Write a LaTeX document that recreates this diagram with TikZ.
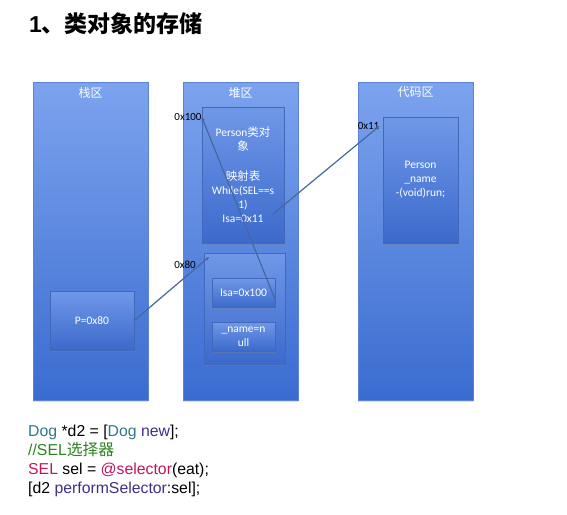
\documentclass[tikz,border=0pt]{standalone}
\usepackage{fontspec}
\setmainfont{Carlito}
\newfontfamily\cjk{Noto Sans CJK SC}
\newfontfamily\codefont{Liberation Sans}
\usetikzlibrary{arrows.meta, positioning, shadows}

\definecolor{coltop}{RGB}{124,163,238}
\definecolor{colbot}{RGB}{58,108,208}
\definecolor{colline}{RGB}{92,132,210}
\definecolor{celltop}{RGB}{112,152,232}
\definecolor{cellbot}{RGB}{60,106,204}
\definecolor{cellline}{RGB}{66,104,184}
\definecolor{ptrcol}{RGB}{70,104,158}
\definecolor{classcol}{RGB}{46,122,136}
\definecolor{msgcol}{RGB}{62,46,140}
\definecolor{commcol}{RGB}{44,132,30}
\definecolor{keycol}{RGB}{190,22,96}

\begin{document}
\begin{tikzpicture}[x=1pt,y=-1pt,
    col/.style={draw=colline, top color=coltop, bottom color=colbot,
        minimum width=115pt, minimum height=318pt, inner sep=0pt,
        drop shadow={opacity=0.25, shadow xshift=0pt, shadow yshift=-1.5pt}},
    colhead/.style={anchor=north, yshift=-5pt, inner sep=0pt, text=white,
        font=\cjk\fontsize{12}{13}\selectfont},
    cell/.style={draw=cellline, top color=celltop, bottom color=cellbot,
        text=white, align=center, inner sep=0pt,
        font=\fontsize{11.5}{14}\selectfont,
        drop shadow={opacity=0.35, shadow xshift=0.5pt, shadow yshift=-2pt}},
    addr/.style={inner sep=0pt, font=\fontsize{11}{12}\selectfont},
    ptr/.style={draw=ptrcol, line width=1.2pt, -{Stealth[length=4pt,width=3.5pt]}},
    codeline/.style={anchor=base west, inner sep=0pt,
        font=\codefont\fontsize{15.8}{18}\selectfont}]
\useasboundingbox (0,0) rectangle (567,514);

% title
\node[anchor=west, inner sep=0pt] (title) at (29,24)
    {\fontsize{23}{26}\selectfont{\codefont\bfseries 1}{\cjk\bfseries 、类对象的存储}};

% the three areas
\node[col, label={[colhead]north:栈区}] (stack) at (90.5,241) {};
\node[col, label={[colhead]north:堆区}] (heap) at (240.5,241) {};
\node[col, label={[colhead]north:代码区}] (code) at (415.5,241) {};

% stack
\node[cell, minimum width=84pt, minimum height=59pt] (pbox) at (92,320.5) {P=0x80};

% heap
\node[cell, minimum width=82pt, minimum height=136pt] (person) at (243,175)
    {Person{\cjk 类对}\\{\cjk 象}\\[16pt]{\cjk 映射表}\\While(SEL==s\\1)\\Isa=0x11};
\node[cell, minimum width=81pt, minimum height=111pt] (obj) at (244.5,308.5) {};
\node[cell, minimum width=63pt, minimum height=29pt] (isabox) at (243.5,292.5) {Isa=0x100};
\node[cell, minimum width=63pt, minimum height=29pt] (namebox) at (243.5,336.5)
    {\_name=n\\ull};

% code
\node[cell, minimum width=75pt, minimum height=126pt] (codebox) at (420.5,180)
    {Person\\\_name\\-(void)run;};

% addresses
\node[addr] (l100) at (188,117) {0x100};
\node[addr] (l80) at (185,265) {0x80};
\node[addr] (l11) at (368.5,126) {0x11};

% pointers
\coordinate (c80) at (209,257);
\coordinate (isaref) at (273,214);
\draw[ptr] (pbox.east) -- (c80);
\draw[ptr] (isabox.-13) -- (l100.east);
\draw[ptr] (isaref) -- (l11.east);

% code
\node[codeline] (code1) at (28,436)
    {\textcolor{classcol}{Dog} *d2 = [\textcolor{classcol}{Dog} \textcolor{msgcol}{new}];};
\node[codeline] (code2) at (28,455) {\textcolor{commcol}{//SEL{\cjk 选择器}}};
\node[codeline] (code3) at (28,474)
    {\textcolor{keycol}{SEL} sel = \textcolor{keycol}{@selector}(eat);};
\node[codeline] (code4) at (28,493) {[d2 \textcolor{msgcol}{performSelector}:sel];};
\end{tikzpicture}
\end{document}
